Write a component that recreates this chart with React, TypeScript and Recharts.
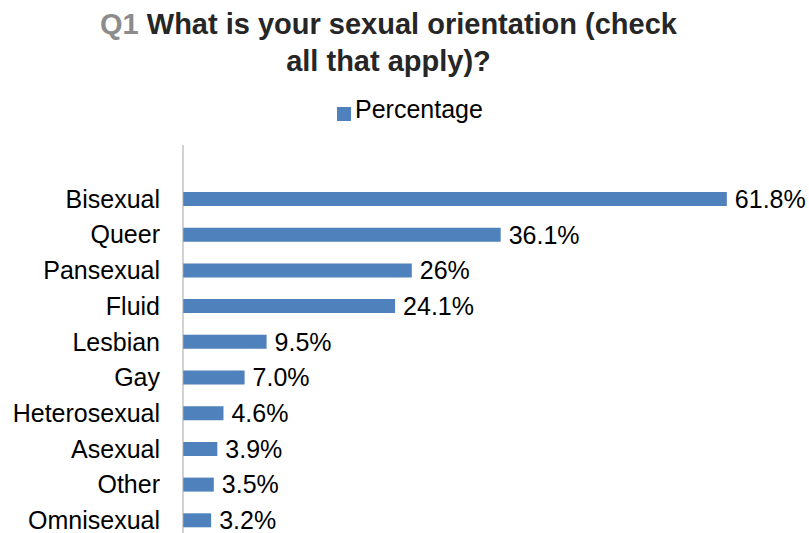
import { Bar, BarChart, LabelList, Legend, XAxis, YAxis } from 'recharts'

const categories = [
  'Bisexual',
  'Queer',
  'Pansexual',
  'Fluid',
  'Lesbian',
  'Gay',
  'Heterosexual',
  'Asexual',
  'Other',
  'Omnisexual',
]
const percentages = [61.8, 36.1, 26, 24.1, 9.5, 7.0, 4.6, 3.9, 3.5, 3.2]
const valueLabels = ['61.8%', '36.1%', '26%', '24.1%', '9.5%', '7.0%', '4.6%', '3.9%', '3.5%', '3.2%']

const data = categories.map((name, i) => ({
  name,
  value: percentages[i],
  label: valueLabels[i],
}))

const font = '"Liberation Sans", Arial, sans-serif'

export default function App() {
  return (
    <div
      style={{
        position: 'absolute',
        top: 0,
        left: 0,
        width: 809,
        height: 533,
        overflow: 'hidden',
        background: '#fff',
        fontFamily: font,
      }}
    >
      <div
        style={{
          position: 'absolute',
          top: 6,
          left: 0,
          width: 777,
          textAlign: 'center',
          fontSize: 29,
          lineHeight: '37px',
          fontWeight: 'bold',
          color: '#262626',
        }}
      >
        <span style={{ color: '#8c8c8c' }}>Q1</span> What is your sexual orientation (check
        <br />
        all that apply)?
      </div>
      <BarChart
        layout="vertical"
        width={809}
        height={545}
        data={data}
        margin={{ top: 145, right: 10, bottom: 7, left: 0 }}
        style={{ fontFamily: font }}
      >
        <XAxis type="number" domain={[0, 70]} hide />
        <YAxis
          type="category"
          dataKey="name"
          width={183}
          padding={{ top: 36, bottom: 0 }}
          axisLine={{ stroke: '#a6a6a6' }}
          tickLine={false}
          tickSize={0}
          tickMargin={23}
          tick={{ fontSize: 25, fill: '#000' }}
          interval={0}
        />
        <Legend
          layout="horizontal"
          verticalAlign="middle"
          align="center"
          iconType="square"
          iconSize={14}
          wrapperStyle={{ top: 95, left: 337, width: 'auto', height: 'auto' }}
          formatter={(value) => (
            <span style={{ color: '#000', fontSize: 25 }}>{value}</span>
          )}
        />
        <Bar
          name="Percentage"
          dataKey="value"
          fill="#4f81bd"
          barSize={14}
          isAnimationActive={false}
        >
          <LabelList
            dataKey="label"
            position="right"
            offset={8}
            style={{ fontSize: 25, fill: '#000' }}
          />
        </Bar>
      </BarChart>
    </div>
  )
}
